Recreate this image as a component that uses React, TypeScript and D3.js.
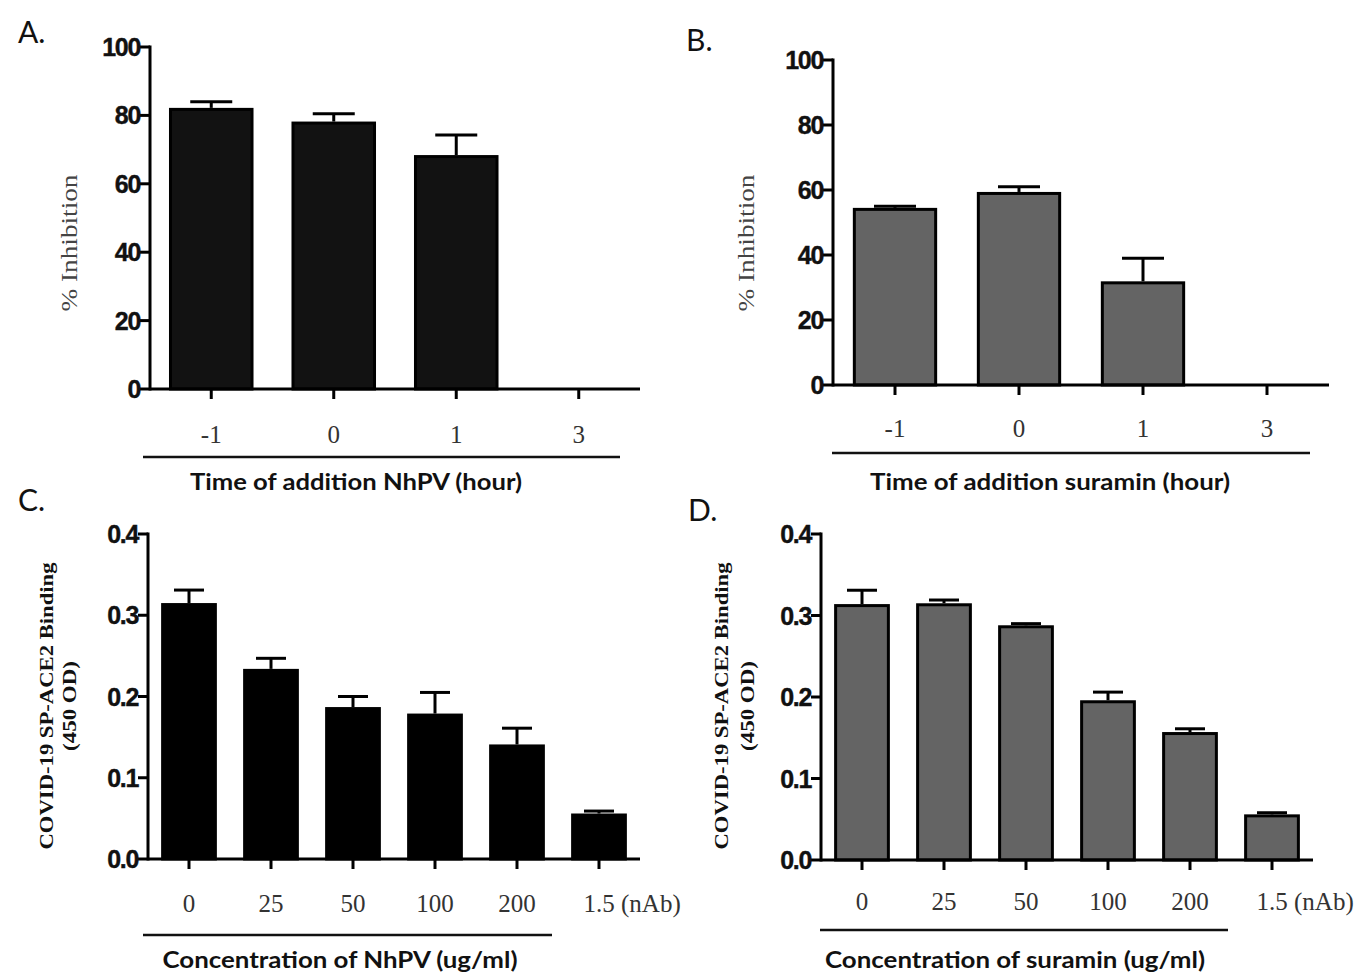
import React from 'react';
import * as d3 from 'd3';

// time-of-addition panels (A, B)
const timeCats = ['-1', '0', '1', '3'];
const nhpvTime = [82.2, 78.2, 68.4, 0];
const nhpvTimeErr = [1.8, 2.3, 5.9, 0];
const suraminTime = [54.5, 59.4, 31.9, 0];
const suraminTimeErr = [0.5, 1.6, 7.1, 0];
const pctTicks = [0, 20, 40, 60, 80, 100];

// concentration panels (C, D)
const concCats = ['0', '25', '50', '100', '200', '1.5 (nAb)'];
const nhpvConc = [0.315, 0.234, 0.187, 0.179, 0.141, 0.056];
const nhpvConcErr = [0.016, 0.013, 0.013, 0.026, 0.02, 0.003];
const suraminConc = [0.314, 0.315, 0.288, 0.196, 0.157, 0.056];
const suraminConcErr = [0.017, 0.004, 0.002, 0.01, 0.004, 0.002];
const odTicks = [0, 0.1, 0.2, 0.3, 0.4];

const SANS = '"Liberation Sans", Arial, sans-serif';
const SERIF = '"Liberation Serif", "Times New Roman", serif';
const TITLE = 'Lato, "Open Sans", sans-serif';

type PanelProps = {
  letter: string;
  letterX: number;
  letterY: number;
  xRange: [number, number];
  yRange: [number, number]; // [bottom, top]
  yMax: number;
  ticks: number[];
  fmt: (v: number) => string;
  cats: string[];
  values: number[];
  errs: number[];
  pad: number;
  fill: string;
  capW: number;
  catY: number;
  lineX: [number, number];
  lineY: number;
  xTitle: string;
  xTitleX: number;
  xTitleY: number;
  xTitleW: number;
  yTitle: string[];
  yTitleX: number[];
  yTitleY: number;
  yTitleW: number[];
  yTitleStyle: React.CSSProperties;
};

const Panel = (p: PanelProps) => {
  const x = d3.scaleBand<string>()
    .domain(p.cats)
    .range(p.xRange)
    .paddingInner(p.pad)
    .paddingOuter(p.pad / 2);
  const y = d3.scaleLinear().domain([0, p.yMax]).range(p.yRange);
  const ax = p.xRange[0];
  const base = y(0);

  return (
    <g>
      <text x={p.letterX} y={p.letterY} fontFamily={TITLE} fontSize={30} fill="#111">{p.letter}</text>

      {/* bars */}
      {p.values.map((v, i) => {
        if (!v) return null;
        const cx = x(p.cats[i])! + x.bandwidth() / 2;
        const top = y(v);
        const et = y(v + p.errs[i]);
        return (
          <g key={i}>
            <line x1={cx} x2={cx} y1={top} y2={et} stroke="#000" strokeWidth={3} />
            <line x1={cx - p.capW / 2} x2={cx + p.capW / 2} y1={et} y2={et} stroke="#000" strokeWidth={3} />
            <rect x={x(p.cats[i])! + 1.5} y={top + 1.5} width={x.bandwidth() - 3} height={base - top - 1.5}
              fill={p.fill} stroke="#000" strokeWidth={3} />
          </g>
        );
      })}

      {/* y axis */}
      <line x1={ax} x2={ax} y1={y(p.yMax) - 1.5} y2={base + 1.5} stroke="#000" strokeWidth={3} />
      {p.ticks.map(t => (
        <g key={t}>
          <line x1={ax - 10} x2={ax} y1={y(t)} y2={y(t)} stroke="#000" strokeWidth={3} />
          <text x={ax - 10} y={y(t)} dy="0.36em" textAnchor="end" fontFamily={SANS} fontWeight="bold"
            fontSize={25} letterSpacing={-1.3} fill="#111" stroke="#111" strokeWidth={0.4}>{p.fmt(t)}</text>
        </g>
      ))}

      {/* x axis */}
      <line x1={ax} x2={p.xRange[1]} y1={base} y2={base} stroke="#000" strokeWidth={3} />
      {p.cats.map(c => {
        const cx = x(c)! + x.bandwidth() / 2;
        const [head, ...rest] = c.split(' ');
        return (
          <g key={c}>
            <line x1={cx} x2={cx} y1={base} y2={base + 10} stroke="#000" strokeWidth={3} />
            <text x={cx} y={p.catY} textAnchor="middle" fontFamily={SERIF} fontSize={25} fill="#333">{head}</text>
            {rest.length > 0 && (
              <text x={cx + 22} y={p.catY} fontFamily={SERIF} fontSize={25} fill="#333">{rest.join(' ')}</text>
            )}
          </g>
        );
      })}

      <line x1={p.lineX[0]} x2={p.lineX[1]} y1={p.lineY} y2={p.lineY} stroke="#111" strokeWidth={2.5} />
      <text x={p.xTitleX} y={p.xTitleY} textAnchor="middle" fontFamily={TITLE} fontWeight="bold" fontSize={22}
        fill="#111" textLength={p.xTitleW} lengthAdjust="spacingAndGlyphs">{p.xTitle}</text>

      {p.yTitle.map((t, i) => (
        <text key={t} transform={`translate(${p.yTitleX[i]},${p.yTitleY}) rotate(-90)`} textAnchor="middle"
          dy="0.35em" fontFamily={SERIF} textLength={p.yTitleW[i]} lengthAdjust="spacingAndGlyphs"
          style={p.yTitleStyle}>{t}</text>
      ))}
    </g>
  );
};

const pctFmt = (v: number) => String(v);
const odFmt = (v: number) => v.toFixed(1);

export default function App() {
  const pctTitle: React.CSSProperties = { fontSize: 24, fill: '#444' };
  const odTitle: React.CSSProperties = { fontSize: 18, fontWeight: 'bold', fill: '#111' };
  return (
    <svg width={1372} height={974} style={{ position: 'absolute', left: 0, top: 0, background: '#fff' }}>
      <Panel letter="A." letterX={18} letterY={43} xRange={[150, 640]} yRange={[389, 47]} yMax={100}
        ticks={pctTicks} fmt={pctFmt} cats={timeCats} values={nhpvTime} errs={nhpvTimeErr} pad={0.31}
        fill="#121212" capW={42} catY={443} lineX={[143, 620]} lineY={457}
        xTitle="Time of addition NhPV (hour)" xTitleX={356} xTitleY={490} xTitleW={332}
        yTitle={['% Inhibition']} yTitleX={[69]} yTitleY={243} yTitleW={[137]} yTitleStyle={pctTitle} />
      <Panel letter="B." letterX={686} letterY={51} xRange={[833, 1329]} yRange={[385, 60]} yMax={100}
        ticks={pctTicks} fmt={pctFmt} cats={timeCats} values={suraminTime} errs={suraminTimeErr} pad={0.32}
        fill="#646464" capW={42} catY={437} lineX={[832, 1310]} lineY={453}
        xTitle="Time of addition suramin (hour)" xTitleX={1050} xTitleY={490} xTitleW={360}
        yTitle={['% Inhibition']} yTitleX={[746]} yTitleY={243} yTitleW={[137]} yTitleStyle={pctTitle} />
      <Panel letter="C." letterX={18} letterY={511} xRange={[148, 640]} yRange={[859, 534]} yMax={0.4}
        ticks={odTicks} fmt={odFmt} cats={concCats} values={nhpvConc} errs={nhpvConcErr} pad={0.32}
        fill="#000" capW={30} catY={912} lineX={[143, 552]} lineY={935}
        xTitle="Concentration of NhPV (ug/ml)" xTitleX={340} xTitleY={968} xTitleW={355}
        yTitle={['COVID-19 SP-ACE2 Binding', '(450 OD)']} yTitleX={[47, 70]} yTitleY={706} yTitleW={[287, 90]}
        yTitleStyle={odTitle} />
      <Panel letter="D." letterX={688} letterY={521} xRange={[821, 1313]} yRange={[860, 534]} yMax={0.4}
        ticks={odTicks} fmt={odFmt} cats={concCats} values={suraminConc} errs={suraminConcErr} pad={0.32}
        fill="#646464" capW={30} catY={910} lineX={[820, 1228]} lineY={930}
        xTitle="Concentration of suramin (ug/ml)" xTitleX={1015} xTitleY={968} xTitleW={380}
        yTitle={['COVID-19 SP-ACE2 Binding', '(450 OD)']} yTitleX={[722, 748]} yTitleY={706} yTitleW={[287, 90]}
        yTitleStyle={odTitle} />
    </svg>
  );
}
